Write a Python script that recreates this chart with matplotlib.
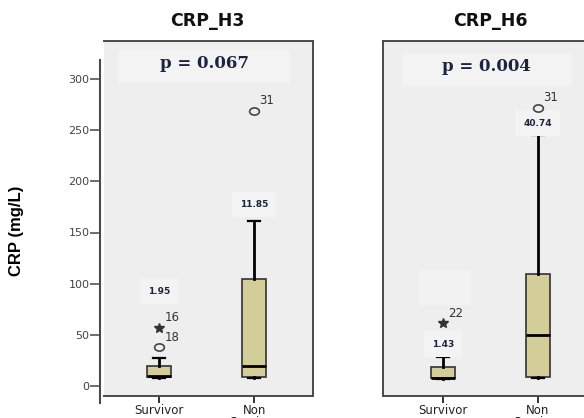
import matplotlib
matplotlib.use('Agg')
import matplotlib.pyplot as plt
import numpy as np
from matplotlib.path import Path
from matplotlib.patches import Rectangle

# ---------------- data ----------------
categories = ['Survivor', 'Non\nSurvivor']
panel_titles = ['CRP_H3', 'CRP_H6']
p_values = ['0.067', '0.004']

h3_q1 = [8.5, 9.0]
h3_med = [9.5, 19.5]
h3_q3 = [19.5, 104.5]
h3_whislo = [8.0, 8.0]
h3_whishi = [27.0, 161.0]

h6_q1 = [7.5, 9.0]
h6_med = [8.0, 50.0]
h6_q3 = [18.5, 109.5]
h6_whislo = [7.0, 7.5]
h6_whishi = [28.0, 245.0]

# outliers: category index, value, case label
h3_circle_cat = [0, 1]
h3_circle_val = [38.0, 269.0]
h3_circle_lab = ['18', '31']
h3_star_cat = [0]
h3_star_val = [57.0]
h3_star_lab = ['16']

h6_circle_cat = [1]
h6_circle_val = [272.0]
h6_circle_lab = ['31']
h6_star_cat = [0]
h6_star_val = [61.5]
h6_star_lab = ['22']

h3_stat_labels = ['1.95', '11.85']
h6_stat_labels = ['1.43', '40.74']

y_ticks = [0, 50, 100, 150, 200, 250, 300]

# ---------------- layout helpers ----------------
W, H = 584, 418
def fx(px):
    return px / W
def fy(py):
    return 1 - py / H

BG = '#eeeeee'
BOX = '#d3ce99'
FRAME = '#4a4a4a'
NAVY = '#1c2540'

theta = np.linspace(0, 2 * np.pi, 40)
ellipse = Path(np.column_stack([1.35 * np.cos(theta), np.sin(theta)]), closed=True)

fig = plt.figure(figsize=(W / 100, H / 100), dpi=100)

# y scale: 0 -> 386px, 300 -> 79px
ppu = (386 - 79) / 300.0
def val(py):
    return (386 - py) / ppu

panel_left = [104, 383]
panel_xlim = [(0.42, 2.62), (0.37, 2.57)]
top_px, bot_px = 41, 396

layout = [
    dict(stat_y=[92, 177], pbox=(0.067, 0.882, 0.823, 0.093), p_y=315,
         extra=[]),
    dict(stat_y=[41, 257], pbox=(0.09, 0.870, 0.814, 0.096), p_y=312,
         extra=[(0.172, 0.255, 0.249, 0.101)]),
]
data = [
    dict(q1=h3_q1, med=h3_med, q3=h3_q3, lo=h3_whislo, hi=h3_whishi,
         ccat=h3_circle_cat, cval=h3_circle_val, clab=h3_circle_lab,
         scat=h3_star_cat, sval=h3_star_val, slab=h3_star_lab,
         stat=h3_stat_labels),
    dict(q1=h6_q1, med=h6_med, q3=h6_q3, lo=h6_whislo, hi=h6_whishi,
         ccat=h6_circle_cat, cval=h6_circle_val, clab=h6_circle_lab,
         scat=h6_star_cat, sval=h6_star_val, slab=h6_star_lab,
         stat=h6_stat_labels),
]

for i, d in enumerate(data):
    L = layout[i]
    ax = fig.add_axes([fx(panel_left[i]), fy(bot_px), fx(209), (bot_px - top_px) / H])
    ax.set_facecolor(BG)

    stats = []
    for k in range(2):
        stats.append(dict(med=d['med'][k], q1=d['q1'][k], q3=d['q3'][k],
                          whislo=d['lo'][k], whishi=d['hi'][k], fliers=[]))
    ax.bxp(stats, positions=[1, 2], widths=0.25, showfliers=False,
           patch_artist=True, capwidths=0.12,
           boxprops=dict(facecolor=BOX, edgecolor='#333333', linewidth=1.2),
           medianprops=dict(color='black', linewidth=2.0),
           whiskerprops=dict(color='black', linewidth=2.0),
           capprops=dict(color='black', linewidth=1.6))

    ax.set_ylim(val(bot_px), val(top_px))
    ax.set_xlim(*panel_xlim[i])
    for s in ['top', 'right', 'bottom', 'left']:
        ax.spines[s].set_color(FRAME)
        ax.spines[s].set_linewidth(1.4)
    if i == 0:
        ax.spines['left'].set_visible(False)
    ax.set_yticks([])
    ax.set_xticks([1, 2])
    ax.set_xticklabels(categories, fontsize=8.5, linespacing=0.85,
                       family='DejaVu Sans', color='#222222', va='top')
    ax.tick_params(axis='x', direction='out', length=5, width=1.4,
                   color='#333333', pad=1)

    # faint label boxes
    x0, y0, w0, h0 = L['pbox']
    ax.add_patch(Rectangle((x0, y0), w0, h0, transform=ax.transAxes,
                           facecolor='#f3f3f3', edgecolor='none', zorder=0.5))
    for (ex, ey, ew, eh) in L['extra']:
        ax.add_patch(Rectangle((ex, ey), ew, eh, transform=ax.transAxes,
                               facecolor='#f2f2f2', edgecolor='none', zorder=0.5))

    # outliers
    cx = [c + 1 for c in d['ccat']]
    ax.plot(cx, d['cval'], linestyle='none', marker=ellipse, markersize=7,
            markerfacecolor='none', markeredgecolor='#444444', markeredgewidth=1.2,
            zorder=4)
    for x, v, lab in zip(cx, d['cval'], d['clab']):
        ax.annotate(lab, (x, v), xytext=(4, 2.5), textcoords='offset points',
                    ha='left', va='bottom', fontsize=8.5, color='#333333',
                    family='DejaVu Sans')
    sx = [c + 1 for c in d['scat']]
    ax.plot(sx, d['sval'], linestyle='none', marker='*', markersize=7,
            color='#333333', zorder=4)
    for x, v, lab in zip(sx, d['sval'], d['slab']):
        ax.annotate(lab, (x, v), xytext=(4, 2.5), textcoords='offset points',
                    ha='left', va='bottom', fontsize=8.5, color='#333333',
                    family='DejaVu Sans')

    # summary labels
    for k, lab in enumerate(d['stat']):
        ax.text(k + 1, L['stat_y'][k], lab, ha='center', va='center',
                fontsize=6.5, fontweight='bold', color=NAVY, family='DejaVu Sans',
                bbox=dict(boxstyle='square,pad=0.9', facecolor='#f3f3f3',
                          edgecolor='none'), zorder=3)

    ax.text(x0 + w0 / 2, L['p_y'], 'p = ' + p_values[i], ha='center',
            va='center', fontsize=12, fontweight='bold', color=NAVY,
            family='DejaVu Serif', zorder=3, transform=ax.get_yaxis_transform())

# panel titles
fig.text(fx(207), fy(21), panel_titles[0], ha='center', va='center',
         fontsize=12.5, fontweight='bold', family='DejaVu Sans', color='#111111')
fig.text(fx(490), fy(21), panel_titles[1], ha='center', va='center',
         fontsize=12.5, fontweight='bold', family='DejaVu Sans', color='#111111')

# separate y axis
yax_top, yax_bot = 60, 403
ay = fig.add_axes([fx(100), fy(yax_bot), 0.0005, (yax_bot - yax_top) / H])
ay.patch.set_visible(False)
ay.set_ylim(val(yax_bot), val(yax_top))
for s in ['top', 'right', 'bottom']:
    ay.spines[s].set_visible(False)
ay.spines['left'].set_color(FRAME)
ay.spines['left'].set_linewidth(1.5)
ay.set_xticks([])
ay.set_yticks(y_ticks)
ay.set_yticklabels([str(t) for t in y_ticks], fontsize=8, color='#444444',
                   family='DejaVu Sans')
ay.tick_params(axis='y', direction='out', length=7, width=1.2, color='#555555', pad=0.5)

fig.text(fx(17), fy(231), 'CRP (mg/L)', rotation=90, ha='center', va='center',
         fontsize=12, fontweight='bold', family='Liberation Sans', color='black')

fig.savefig('out.png', dpi=100)
